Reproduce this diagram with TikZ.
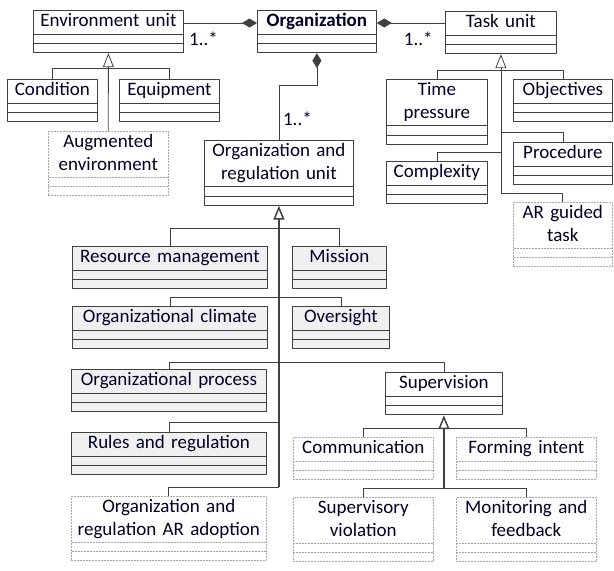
\documentclass[tikz,border=0pt]{standalone}
\usepackage{fontspec}
\setmainfont{Carlito}
\usetikzlibrary{shapes.multipart,arrows.meta}
\newcommand\cname[1]{\strut#1\strut}

\begin{document}
\begin{tikzpicture}[x=1pt, y=-1pt, line join=round,
    every node/.style={font=\fontsize{19}{22.5}\selectfont, text=black!85!blue},
    cls/.style={rectangle split, rectangle split parts=3, anchor=north west,
      draw=black!75, line width=0.8pt, fill=white, align=center,
      inner xsep=2pt, inner ysep=0.25pt,
      rectangle split empty part height=8pt,
      rectangle split empty part depth=0pt},
    clsgray/.style={cls, fill=black!6},
    clsdash/.style={cls, draw=black!35, line width=0.6pt, dash pattern=on 2pt off 1pt},
    link/.style={draw=black!75, line width=0.8pt},
    gen/.style={link, -{Triangle[open, length=14pt, width=11pt]}},
    comp/.style={link, -{Diamond[length=15pt, width=9pt]}},
    mult/.style={inner sep=0pt}]
  \useasboundingbox (0,0) rectangle (614,571);
  % top row
  \node[cls, text width=146pt] (env) at (33,10) {\cname{Environment unit}};
  \node[cls, text width=115pt] (org) at (257,10) {\cname{\textbf{Organization}}};
  \node[cls, text width=107pt] (task) at (445,11) {\cname{Task unit}};
  % environment
  \node[cls, text width=86pt] (cond) at (7,79) {\cname{Condition}};
  \node[cls, text width=96pt] (equip) at (119,79) {\cname{Equipment}};
  \node[clsdash, text width=116pt] (augenv) at (48,131) {\cname{Augmented\\environment}};
  % task
  \node[cls, text width=97pt] (timep) at (386,79) {\cname{Time\\pressure}};
  \node[cls, text width=95pt] (obj) at (513,79) {\cname{Objectives}};
  \node[cls, text width=95pt] (proc) at (513,142) {\cname{Procedure}};
  \node[cls, text width=97pt] (compl) at (386,161) {\cname{Complexity}};
  \node[clsdash, text width=95pt] (artask) at (513,202) {\cname{AR guided\\task}};
  % organization and regulation
  \node[cls, text width=145pt] (orgreg) at (204,140) {\cname{Organization and\\regulation unit}};
  \node[clsgray, text width=191pt] (resmgmt) at (72,246) {\cname{Resource management}};
  \node[clsgray, text width=90pt] (mission) at (292,246) {\cname{Mission}};
  \node[clsgray, text width=191pt] (climate) at (72,306) {\cname{Organizational climate}};
  \node[clsgray, text width=93pt] (oversight) at (292,306) {\cname{Oversight}};
  \node[clsgray, text width=191pt] (process) at (71,369) {\cname{Organizational process}};
  \node[clsgray, text width=191pt] (rules) at (71,432) {\cname{Rules and regulation}};
  \node[clsdash, text width=191pt] (aradopt) at (71,496) {\cname{Organization and\\regulation AR adoption}};
  % supervision
  \node[cls, text width=113pt] (superv) at (385,372) {\cname{Supervision}};
  \node[clsdash, text width=136pt] (comm) at (293,437) {\cname{Communication}};
  \node[clsdash, text width=136pt] (forming) at (456,437) {\cname{Forming intent}};
  \node[clsdash, text width=136pt] (supviol) at (293,497) {\cname{Supervisory\\violation}};
  \node[clsdash, text width=136pt] (monit) at (456,497) {\cname{Monitoring and\\feedback}};

  % composition
  \draw[comp] ([yshift=-13pt]env.north east) -- ([yshift=-13pt]org.north west)
    node[mult, pos=0, anchor=north west, xshift=5pt, yshift=-9pt] (m1) {1..*};
  \draw[comp] ([yshift=-12pt]task.north west) -- ([yshift=-13pt]org.north east)
    node[mult, pos=0, anchor=north east, xshift=-12pt, yshift=-9pt] (m2) {1..*};
  \draw[comp] (orgreg.north) -- ++(0,-55) -| (org.south);
  \node[mult, anchor=south west] (m3) at ([xshift=4pt, yshift=14pt]orgreg.north) {1..*};

  % generalization
  \draw[gen] (augenv.north) -- (env.south);
  \draw[link] (cond.north) -- ++(0,-11) -| (equip.north);

  \coordinate (tasktrunk) at (task.south |- 0,100);
  \draw[gen] (artask.north) -- ++(0,-9) -| (task.south);
  \draw[link] (timep.north) -- ++(0,-9) -| (obj.north);
  \draw[link] (proc.north) -- ++(0,-10) -| (tasktrunk);
  \draw[link] (compl.north) -- ++(0,-9) -| (tasktrunk);

  \coordinate (orgtrunk) at (orgreg.south |- 0,487);
  \draw[gen, line width=1.5pt] (orgtrunk) -- (orgreg.south);
  \draw[link] (resmgmt.north) -- ++(0,-18) -| (mission.north);
  \draw[link] (climate.north) -- ++(0,-9) -| (oversight.north);
  \draw[link] (process.north) -- ++(0,-7) -| (superv.north);
  \draw[link] (rules.north) -- ++(0,-10) -| (orgtrunk);
  \draw[link] (aradopt.north) -- ++(0,-9) -| (orgtrunk);

  \coordinate (suptrunk) at (superv.south |- 0,488);
  \draw[gen, line width=1.5pt] (suptrunk) -- (superv.south);
  \draw[link] (comm.north) -- ++(0,-9) -| (forming.north);
  \draw[link] (supviol.north) -- ++(0,-9) -| (monit.north);
\end{tikzpicture}
\end{document}
